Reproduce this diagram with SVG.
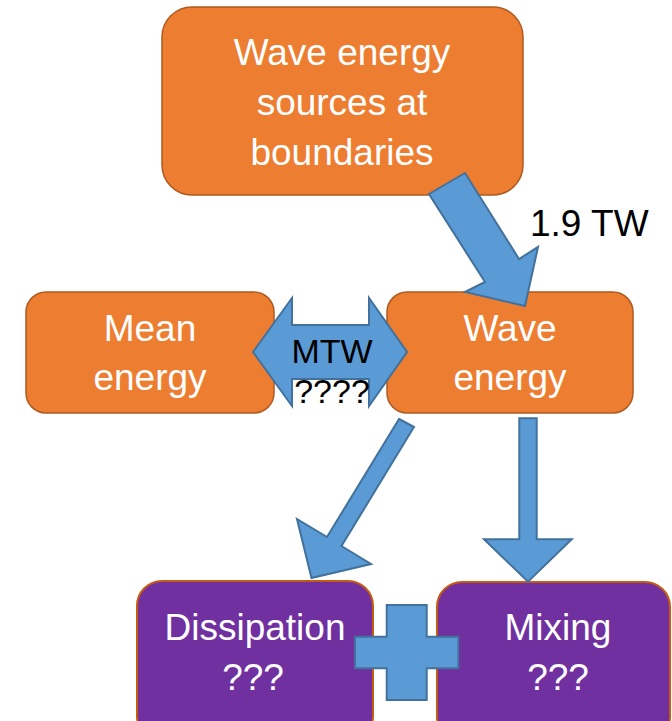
<svg xmlns="http://www.w3.org/2000/svg" width="672" height="721" viewBox="0 0 672 721">
<style>
.orange{fill:#ED7D31;stroke:#AE5A21;stroke-width:1.5}
.purple{fill:#7030A0;stroke:#C55A11;stroke-width:2}
.arrow{fill:#5B9BD5;stroke:#41719C;stroke-width:2;stroke-linejoin:miter}
.wt{font-family:"Liberation Sans",Arial,sans-serif;font-size:37px;fill:#FFFFFF;text-anchor:middle}
.bt{font-family:"Liberation Sans",Arial,sans-serif;font-size:37px;fill:#000000}
.mt{font-family:"Liberation Sans",Arial,sans-serif;font-size:34px;fill:#000000;text-anchor:middle}
</style>
<rect width="672" height="721" fill="#FFFFFF"/>
<g id="sources">
<rect class="orange" x="162" y="7" width="361" height="188" rx="30" ry="30"/>
<text class="wt" x="342" y="65">Wave energy</text>
<text class="wt" x="342" y="115">sources at</text>
<text class="wt" x="342" y="165">boundaries</text>
</g>
<g id="mean">
<rect class="orange" x="26" y="292" width="248" height="121" rx="20" ry="20"/>
<text class="wt" x="150" y="341">Mean</text>
<text class="wt" x="150" y="390">energy</text>
</g>
<g id="wave">
<rect class="orange" x="387" y="292" width="246" height="121" rx="20" ry="20"/>
<text class="wt" x="510" y="341">Wave</text>
<text class="wt" x="510" y="390">energy</text>
</g>
<g id="dissipation">
<rect class="purple" x="137" y="581" width="236" height="160" rx="25" ry="25"/>
<text class="wt" x="255" y="640">Dissipation</text>
<text class="wt" x="253" y="690">???</text>
</g>
<g id="mixing">
<rect class="purple" x="437" y="582" width="233" height="160" rx="25" ry="25"/>
<text class="wt" x="558" y="640">Mixing</text>
<text class="wt" x="558" y="690">???</text>
</g>
<g id="connectors">
<polygon class="arrow" points="429,194 465,173 519,259 538,247 525,306 465,292 485,282"/>
<text class="bt" x="530" y="236">1.9 TW</text>
<polygon class="arrow" points="253,352 292,298 292,325 369,325 369,298 407,352 369,406 369,379 292,379 292,406"/>
<text class="mt" x="332" y="363">MTW</text>
<text class="mt" x="332" y="403">????</text>
<polygon class="arrow" points="399,419 414,427 341.5,546 371,564 311.5,578 297,519 327,537"/>
<polygon class="arrow" points="519.3,418.3 536.7,418.3 536.7,539.3 571.7,539.3 528,581.7 484,539.3 519.3,539.3"/>
</g>
<g id="plus">
<polygon class="arrow" points="386.7,605 426.7,605 426.7,636.7 458.3,636.7 458.3,668.3 426.7,668.3 426.7,700 386.7,700 386.7,668.3 355,668.3 355,636.7 386.7,636.7"/>
</g>
</svg>
